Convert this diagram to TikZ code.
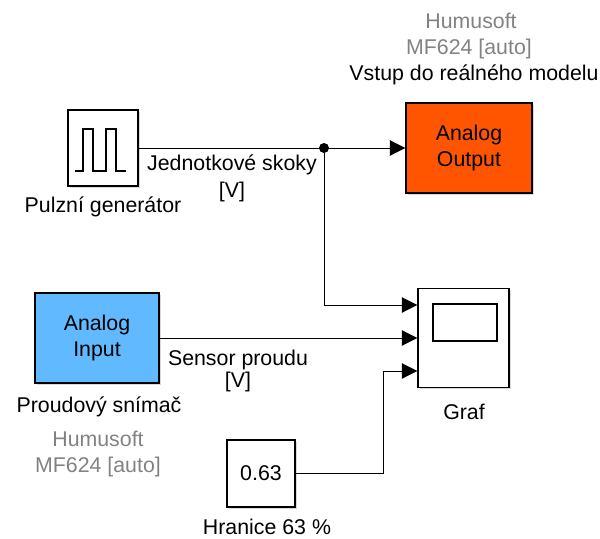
\documentclass[tikz,border=0pt]{standalone}
\usepackage{fontspec}
\setmainfont{Liberation Sans}
\usetikzlibrary{arrows.meta,shadows,calc}

\definecolor{outorange}{RGB}{255,85,0}
\definecolor{inblue}{RGB}{97,186,255}
\definecolor{labelgray}{RGB}{130,130,130}

\tikzset{
  block/.style={draw=black, line width=1.1pt, fill=white, inner sep=0pt, align=center,
    font=\fontsize{16}{19.5}\selectfont,
    drop shadow={shadow xshift=1.2pt, shadow yshift=-1.2pt, opacity=0.3}},
  signal/.style={line width=0.75pt, -{Triangle[length=11.5pt,width=11.5pt]}},
  txt/.style={font=\fontsize{16}{20}\selectfont, align=center, inner sep=0pt},
  graytxt/.style={txt, text=labelgray},
}

\begin{document}
\begin{tikzpicture}[x=0.75pt, y=-0.75pt]
  \useasboundingbox (0,0) rectangle (600,539);

  % Blocks
  \node[block, minimum width=52.5pt, minimum height=57pt] (pulse) at (103,148) {};
  \node[block, fill=outorange, minimum width=94.5pt, minimum height=67.5pt] (aout) at (469,148) {Analog\\Output};
  \node[block, fill=inblue, minimum width=93pt, minimum height=67.5pt] (ain) at (97,338) {Analog\\Input};
  \node[block, minimum width=68.25pt, minimum height=74.25pt] (scope) at (463.5,338) {};
  \node[block, minimum width=51pt, minimum height=50.25pt] (const) at (261,473.5) {0.63};

  % Pulse waveform inside the generator
  \draw[line width=0.9pt] (75,171) -- (83,171) -- (83,129) -- (93,129) -- (93,171)
    -- (106,171) -- (106,129) -- (116,129) -- (116,171) -- (126,171);

  % Scope screen
  \draw[line width=0.9pt] (433,304) rectangle (497,341);

  % Scope input ports
  \coordinate (in1) at ($(scope.west)+(0,-33)$);
  \coordinate (in2) at (scope.west);
  \coordinate (in3) at ($(scope.west)+(0,33)$);

  % Signals
  \coordinate (junc) at (324,148);
  \coordinate (bend) at (383,473.5);
  \draw[signal] (pulse) -- (aout);
  \fill (junc) circle (3.75pt);
  \draw[signal] (junc) |- (in1);
  \draw[signal] (ain) -- (in2);
  \draw[signal] (const) -- (bend) |- (in3);

  % Labels
  \node[graytxt] (hum1) at (471,21) {Humusoft};
  \node[graytxt] (mf1) at (469,49) {MF624 [auto]};
  \node[txt] (vstup) at (474,75) {Vstup do reálného modelu};
  \node[txt] (pulselbl) at (103,207) {Pulzní generátor};
  \node[txt, font=\fontsize{16}{20.25}\selectfont] (skoky) at (232,178.5) {Jednotkové skoky\\{[V]}};
  \node[txt, font=\fontsize{16}{16.5}\selectfont] (sensor) at (238,371) {Sensor proudu\\{[V]}};
  \node[txt] (snimac) at (99,407) {Proudový snímač};
  \node[graytxt] (hum2) at (98,439) {Humusoft};
  \node[graytxt] (mf2) at (98,467) {MF624 [auto]};
  \node[txt] (graf) at (464,412) {Graf};
  \node[txt] (hranice) at (267,527) {Hranice 63 \%};
\end{tikzpicture}
\end{document}
